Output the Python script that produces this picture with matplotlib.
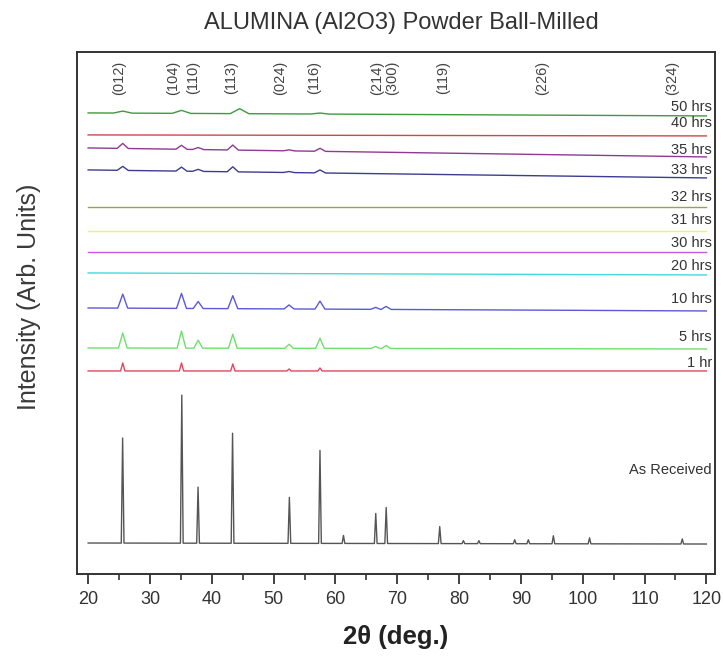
import matplotlib
matplotlib.use("Agg")
import matplotlib.pyplot as plt
from matplotlib.ticker import MultipleLocator

plt.rcParams['font.family'] = ['Liberation Sans', 'DejaVu Sans']

# ---------------- data ----------------
series_names = ["As Received", "1 hr", "5 hrs", "10 hrs", "20 hrs", "30 hrs",
                "31 hrs", "32 hrs", "33 hrs", "35 hrs", "40 hrs", "50 hrs"]
series_colors = ["#555555", "#e0485a", "#6ee06e", "#5a5ad6", "#45dada", "#c65ae6",
                 "#f2ef78", "#95a35a", "#3d3d8f", "#903a90", "#c84a4a", "#3f9a3f"]
# baseline at 2θ=20 and at 2θ=120 (arb. units)
base_start = [31, 203, 226, 266, 301, 322, 343, 367, 404, 426, 439, 461]
base_end   = [30, 203, 225, 263, 299, 322, 343, 367, 396, 417, 438, 458]
# label vertical positions (arb. units)
label_y = [104, 211, 237, 275, 308, 331, 354, 377, 404, 424, 451, 467]

# peaks: (2θ, height above baseline)
peaks_asrec = [(25.58, 105), (35.15, 148), (37.78, 56), (43.36, 110), (52.55, 46),
               (57.50, 93), (61.30, 8), (66.52, 30), (68.21, 36), (76.87, 17),
               (80.70, 3), (83.20, 3), (89.00, 4), (91.20, 4), (95.25, 8),
               (101.1, 6), (116.1, 5)]
peaks_1hr  = [(25.6, 8), (35.1, 8), (43.4, 7), (52.5, 2), (57.5, 3)]
peaks_5hr  = [(25.6, 15), (35.1, 17), (37.8, 8), (43.4, 14), (52.5, 4), (57.5, 10),
              (66.5, 2), (68.2, 3)]
peaks_10hr = [(25.6, 14), (35.1, 15), (37.8, 7), (43.4, 13), (52.5, 4), (57.5, 8),
              (66.5, 2), (68.2, 3)]
peaks_33hr = [(25.6, 4), (35.1, 4), (37.8, 2), (43.4, 5), (52.5, 1), (57.5, 3)]
peaks_35hr = [(25.6, 5), (35.1, 4), (37.8, 2), (43.4, 5), (52.5, 1), (57.5, 3)]
peaks_50hr = [(25.6, 2), (35.1, 3), (44.5, 5), (57.5, 1)]
peak_lists = [peaks_asrec, peaks_1hr, peaks_5hr, peaks_10hr, [], [], [], [],
              peaks_33hr, peaks_35hr, [], peaks_50hr]
peak_halfwidth = [0.22, 0.35, 0.7, 0.8, 1, 1, 1, 1, 0.9, 0.9, 1, 1.5]

# Miller index labels
hkl_labels = ["(012)", "(104)", "(110)", "(113)", "(024)", "(116)",
              "(214)", "(300)", "(119)", "(226)", "(324)"]
hkl_pos = [25.0, 33.8, 37.0, 43.2, 51.0, 56.5, 66.8, 69.2, 77.4, 93.5, 114.5]

x_start, x_end = 20.0, 120.0

# ---------------- figure ----------------
fig = plt.figure(figsize=(7.23, 6.57), dpi=100)
ax = fig.add_axes([0.1065, 0.1263, 0.8825, 0.7947])

for name, col, b0, b1, pk, hw, ly in zip(series_names, series_colors, base_start,
                                         base_end, peak_lists, peak_halfwidth, label_y):
    def base(x):
        return b0 + (b1 - b0) * (x - x_start) / (x_end - x_start)
    xs = [x_start]
    ys = [b0]
    for (p, h) in sorted(pk):
        xs += [p - hw, p, p + hw]
        ys += [base(p - hw), base(p) + h, base(p + hw)]
    xs.append(x_end)
    ys.append(b1)
    ax.plot(xs, ys, color=col, lw=1.0)
    ax.text(120.9, ly, name, ha='right', va='center', fontsize=10.5, color='#333333')

for lab, xp in zip(hkl_labels, hkl_pos):
    ax.text(xp, 496, lab, rotation=90, ha='center', va='center', fontsize=10.5,
            color='#444444')

ax.set_xlim(18.2, 121.4)
ax.set_ylim(0, 522)
ax.xaxis.set_major_locator(MultipleLocator(10))
ax.xaxis.set_minor_locator(MultipleLocator(5))
ax.set_yticks([])
ax.tick_params(axis='x', which='major', direction='out', length=7, width=1.3,
               labelsize=13, colors='#333333', pad=5)
ax.tick_params(axis='x', which='minor', direction='out', length=4, width=1.2,
               colors='#333333')
for s in ax.spines.values():
    s.set_linewidth(1.4)
    s.set_color('#333333')

ax.set_xlabel("2θ (deg.)", fontsize=18.5, fontweight='bold', color='#222222')
ax.xaxis.set_label_coords(0.5, -0.098)
ax.xaxis.label.set_va('top')
ax.set_ylabel("Intensity (Arb. Units)", fontsize=18, color='#3a3a3a')
ax.yaxis.set_label_coords(-0.056, 0.53)
fig.text(401 / 723, 1 - 23 / 657, "ALUMINA (Al2O3) Powder Ball-Milled", ha='center',
         va='center', fontsize=17, color='#333333')

fig.savefig("out.png", dpi=100)
